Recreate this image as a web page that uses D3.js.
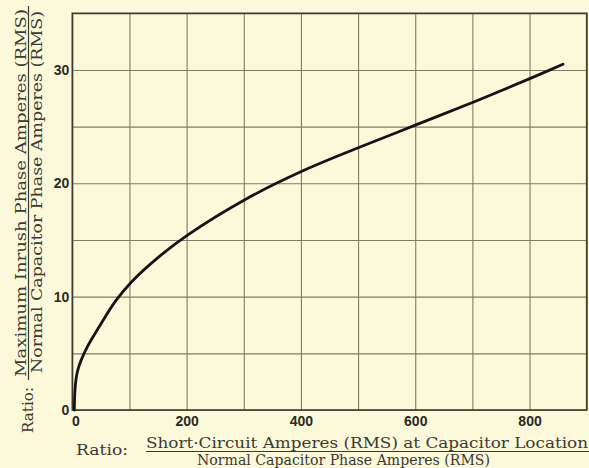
<!DOCTYPE html>
<html>
<head>
<meta charset="utf-8">
<title>Inrush Ratio</title>
<style type="text/css">
	body { margin: 0; background: #fcf8da; }
	svg { display: block; }
	.grid line { stroke: #7f7c66; stroke-width: 1.1; }
	.grid path { display: none; }
	.tick text { font-family: "Liberation Sans", Arial, sans-serif; font-weight: bold; font-size: 14px; fill: #2a2a22; }
	.frame { fill: none; stroke: #3c3b30; stroke-width: 1.6; }
	.curve { fill: none; stroke: #141414; stroke-width: 2.8; stroke-linecap: round; }
	.lbl { font-family: "DejaVu Serif", "Liberation Serif", serif; font-size: 15px; fill: #3a3a32; }
	.bar { stroke: #3a3a32; stroke-width: 1.2; }
</style>
</head>
<body>
<div id="chart"></div>
<script src="https://cdn.jsdelivr.net/npm/d3@7"></script>
<script type="text/javascript">
	// values
	var ratioX = [0, 1, 3, 6, 12, 23, 43, 72, 100, 150, 200, 300, 400, 500, 600, 700, 800, 855];
	var ratioY = [0, 1.6, 2.7, 3.5, 4.4, 5.6, 7.3, 9.6, 11.3, 13.6, 15.5, 18.6, 21.1, 23.2, 25.2, 27.2, 29.3, 30.5];

	var xGrid = [0, 100, 200, 300, 400, 500, 600, 700, 800, 900];
	var xLabels = [0, 200, 400, 600, 800];
	var yGrid = [0, 5, 10, 15, 20, 25, 30, 35];
	var yLabels = [0, 10, 20, 30];

	var width = 589, height = 468;
	var plotLeft = 72.3, plotRight = 586.7, plotTop = 13.3, plotBottom = 410;

	var svg = d3.select('#chart')
		.append('svg')
		.attr('width', width)
		.attr('height', height);

	var x = d3.scaleLinear().domain([0, 900]).range([plotLeft, plotRight]),
		y = d3.scaleLinear().domain([0, 35]).range([plotBottom, plotTop]);

	// vertical grid + x tick labels
	svg.append('g')
		.attr('class', 'grid xgrid')
		.attr('transform', 'translate(0,' + plotBottom + ')')
		.call(d3.axisBottom(x)
			.tickValues(xGrid)
			.tickSize(-(plotBottom - plotTop))
			.tickPadding(6)
			.tickFormat(function(d) { return xLabels.indexOf(d) >= 0 ? d : ''; }));

	// horizontal grid + y tick labels
	svg.append('g')
		.attr('class', 'grid ygrid')
		.attr('transform', 'translate(' + plotLeft + ',0)')
		.call(d3.axisLeft(y)
			.tickValues(yGrid)
			.tickSize(-(plotRight - plotLeft))
			.tickPadding(3)
			.tickFormat(function(d) { return yLabels.indexOf(d) >= 0 ? d : ''; }));

	// the zero on the x axis sits a little to the right
	svg.selectAll('.xgrid .tick text')
		.filter(function(d) { return d === 0; })
		.attr('dx', 3);

	svg.append('rect')
		.attr('class', 'frame')
		.attr('x', plotLeft)
		.attr('y', plotTop)
		.attr('width', plotRight - plotLeft)
		.attr('height', plotBottom - plotTop);

	var pts = ratioX.map(function(v, i) { return [v, ratioY[i]]; });

	svg.append('path')
		.datum(pts)
		.attr('class', 'curve')
		.attr('d', d3.line()
			.x(function(d) { return x(d[0]) + 2; })
			.y(function(d) { return y(d[1]); })
			.curve(d3.curveCatmullRom.alpha(0.5)));

	// x axis title (fraction)
	svg.append('text').attr('class', 'lbl')
		.attr('x', 76).attr('y', 455)
		.attr('textLength', 52).attr('lengthAdjust', 'spacingAndGlyphs')
		.text('Ratio:');
	svg.append('text').attr('class', 'lbl')
		.attr('x', 146).attr('y', 448)
		.attr('textLength', 442).attr('lengthAdjust', 'spacingAndGlyphs')
		.text('Short·Circuit Amperes (RMS) at Capacitor Location');
	svg.append('line').attr('class', 'bar')
		.attr('x1', 146).attr('x2', 589).attr('y1', 451.5).attr('y2', 451.5);
	svg.append('text').attr('class', 'lbl')
		.attr('x', 197).attr('y', 465)
		.attr('textLength', 293).attr('lengthAdjust', 'spacingAndGlyphs')
		.text('Normal Capacitor Phase Amperes (RMS)');

	// y axis title (rotated fraction)
	var yt = svg.append('g').attr('transform', 'rotate(-90)');
	yt.append('text').attr('class', 'lbl')
		.attr('x', -433).attr('y', 33)
		.attr('textLength', 46).attr('lengthAdjust', 'spacingAndGlyphs')
		.text('Ratio:');
	yt.append('text').attr('class', 'lbl')
		.attr('x', -377).attr('y', 26)
		.attr('textLength', 368).attr('lengthAdjust', 'spacingAndGlyphs')
		.text('Maximum Inrush Phase Amperes (RMS)');
	yt.append('line').attr('class', 'bar')
		.attr('x1', -380).attr('x2', -6).attr('y1', 28.5).attr('y2', 28.5);
	yt.append('text').attr('class', 'lbl')
		.attr('x', -373).attr('y', 42)
		.attr('textLength', 362).attr('lengthAdjust', 'spacingAndGlyphs')
		.text('Normal Capacitor Phase Amperes (RMS)');
</script>
</body>
</html>
